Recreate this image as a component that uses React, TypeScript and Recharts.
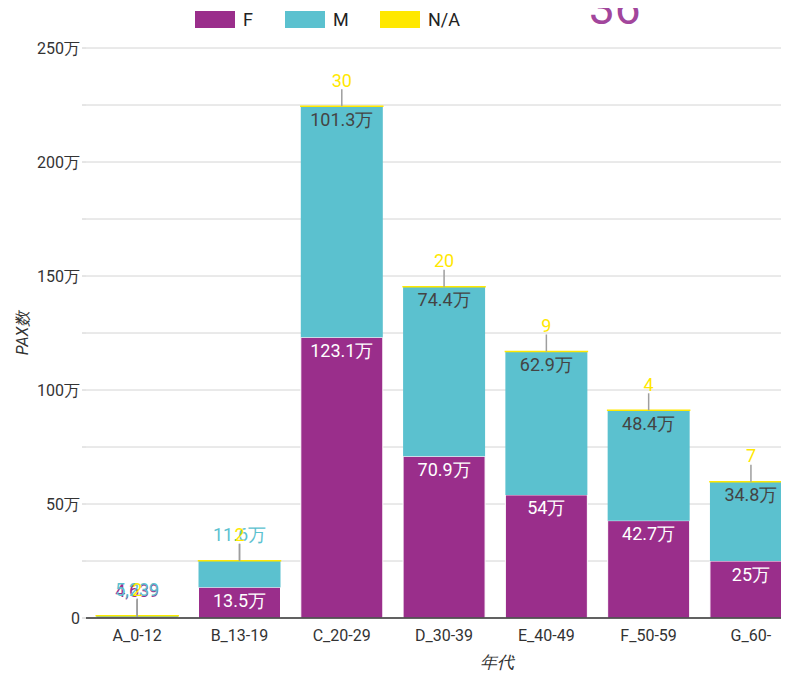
import { BarChart, Bar, XAxis, YAxis, CartesianGrid, LabelList } from 'recharts';

const ageGroups = ['A_0-12', 'B_13-19', 'C_20-29', 'D_30-39', 'E_40-49', 'F_50-59', 'G_60-'];
const femaleCounts = [4639, 135000, 1231000, 709000, 540000, 427000, 250000];
const maleCounts = [5239, 116000, 1013000, 744000, 629000, 484000, 348000];
const unknownCounts = [2, 2, 30, 20, 9, 4, 7];
const yTicks = [0, 250000, 500000, 750000, 1000000, 1250000, 1500000, 1750000, 2000000, 2250000, 2500000];

const PURPLE = '#9A2E8B';
const CYAN = '#5BC1CF';
const YELLOW = '#FFE800';
const FONT = 'Roboto, sans-serif';

const data = ageGroups.map((g, i) => ({
  group: g,
  F: femaleCounts[i],
  M: maleCounts[i],
  NA: unknownCounts[i],
}));

function fmt(v: number) {
  if (v >= 10000) {
    const n = Math.round(v / 1000) / 10;
    return `${n}万`;
  }
  return v.toLocaleString('en-US');
}

function fmtTick(v: number) {
  if (v % 500000 !== 0) return '';
  return v === 0 ? '0' : `${v / 10000}万`;
}

// inside label when the segment is tall enough, otherwise above with a leader line
function makeLabel(outsideColor: string, insideColor: string) {
  return (props: any) => {
    const { x, y, width, height, value } = props;
    const cx = Number(x) + Number(width) / 2;
    const top = Number(y);
    if (Number(height) >= 28) {
      return (
        <text x={cx} y={top + 13} textAnchor="middle" dominantBaseline="central"
          fill={insideColor} fontSize={18} fontFamily={FONT}>
          {fmt(value)}
        </text>
      );
    }
    return (
      <g>
        <line x1={cx} x2={cx} y1={top - 17} y2={top} stroke="#9e9e9e" strokeWidth={1.5} />
        <text x={cx} y={top - 26} textAnchor="middle" dominantBaseline="central"
          fill={outsideColor} fontSize={18} fontFamily={FONT}>
          {fmt(value)}
        </text>
      </g>
    );
  };
}

function YTitle(props: any) {
  const vb = props.viewBox || {};
  const cy = Number(vb.y) + Number(vb.height) / 2;
  return (
    <text x={14} y={cy} transform={`rotate(-90 14 ${cy})`} textAnchor="middle" dominantBaseline="central"
      fontSize={16} fill="#333" fontStyle="italic" fontFamily={FONT}>
      PAX数
    </text>
  );
}

function LegendBox() {
  const items = [
    { name: 'F', color: PURPLE, left: 187 },
    { name: 'M', color: CYAN, left: 277 },
    { name: 'N/A', color: YELLOW, left: 372 },
  ];
  return (
    <>
      {items.map((it) => (
        <div key={it.name} style={{ position: 'absolute', left: it.left, top: 3, display: 'flex', alignItems: 'center', fontFamily: FONT, fontSize: 18, color: '#222', lineHeight: '17px' }}>
          <span style={{ display: 'inline-block', width: 40, height: 17, background: it.color, marginRight: 8 }} />
          {it.name}
        </div>
      ))}
    </>
  );
}

export default function App() {
  return (
    <div style={{ position: 'relative', width: 781, height: 666 }}>
      <div style={{ position: 'absolute', left: 581, top: -23, fontFamily: FONT, fontSize: 46, color: '#A2469C', lineHeight: '46px' }}>36</div>
      <LegendBox />
      <div style={{ width: 781, height: 666, overflow: 'hidden' }}>
        <BarChart width={820} height={666} data={data}
          margin={{ top: 40, right: 26, bottom: 14, left: 0 }} barCategoryGap="10%">
          <CartesianGrid vertical={false} stroke="#d4d4d4" />
          <XAxis dataKey="group" height={42} tick={{ fontSize: 16, fill: '#333', fontFamily: FONT }}
            tickLine={false} tickMargin={6} axisLine={{ stroke: '#333', strokeWidth: 1.5 }}
            label={{ value: '年代', position: 'insideBottom', offset: -8, dx: 53, fontSize: 17, fill: '#333', fontStyle: 'italic', fontFamily: FONT }} />
          <YAxis width={78} domain={[0, 2500000]} ticks={yTicks} interval={0} tickFormatter={fmtTick}
            tick={{ fontSize: 16, fill: '#333', fontFamily: FONT }} tickSize={4} tickMargin={2}
            axisLine={false} tickLine={{ stroke: '#ccc' }}
            label={<YTitle />} />
          <Bar dataKey="F" stackId="a" fill={PURPLE} stroke="#fff" strokeWidth={1} isAnimationActive={false}>
            <LabelList dataKey="F" content={makeLabel(PURPLE, '#fff')} />
          </Bar>
          <Bar dataKey="M" stackId="a" fill={CYAN} isAnimationActive={false}>
            <LabelList dataKey="M" content={makeLabel(CYAN, '#444')} />
          </Bar>
          <Bar dataKey="NA" stackId="a" fill={YELLOW} stroke={YELLOW} strokeWidth={1.5} isAnimationActive={false}>
            <LabelList dataKey="NA" content={makeLabel(YELLOW, YELLOW)} />
          </Bar>
        </BarChart>
      </div>
    </div>
  );
}
